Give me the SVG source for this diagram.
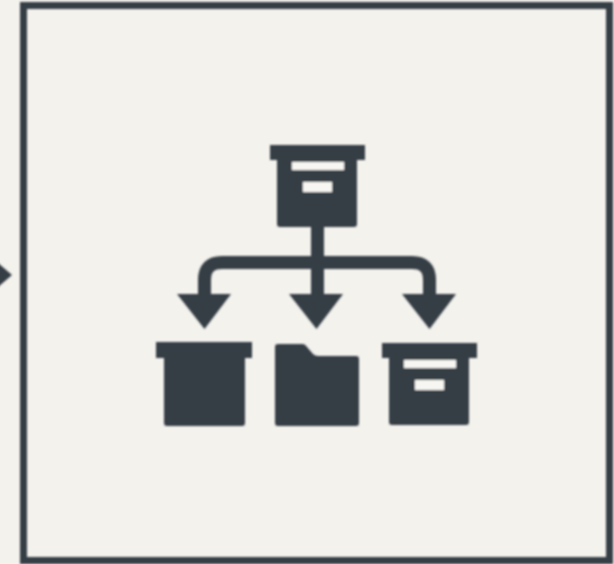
<svg xmlns="http://www.w3.org/2000/svg" width="614" height="564" viewBox="0 0 614 564">
  <defs>
    <filter id="soft" x="-5%" y="-5%" width="110%" height="110%"><feGaussianBlur stdDeviation="0.9"/></filter>
    <g id="lidbox">
      <path class="ink" d="M0 0H95V15H87V79Q87 82 84 82H10Q7 82 7 79V15H0Z"/>
    </g>
    <g id="labels">
      <rect class="paper" x="22" y="17" width="52" height="8"/>
      <rect class="paper" x="33" y="37" width="29" height="10"/>
    </g>
  </defs>
  <style>
    .ink { fill: #353c44; }
    .paper { fill: #f7f6f2; }
    .line { fill: none; stroke: #353c44; stroke-width: 13; }
    .frame { fill: none; stroke: #353c44; stroke-width: 7; }
  </style>
  <rect width="614" height="564" fill="#f3f2ed"/>
  <g filter="url(#soft)">
    <g id="connectors">
      <path class="line" d="M317.500 227V296"/>
      <path class="line" d="M204.500 296V280Q204.500 262.500 222 262.500H412Q429.500 262.500 429.500 280V296"/>
      <path class="ink" d="M177 294H231L204.500 329Z"/>
      <path class="ink" d="M289 294H343L316.500 329Z"/>
      <path class="ink" d="M402 294H456L429.500 329Z"/>
      <path class="ink" d="M-2 263L12 275L-2 287Z"/>
    </g>
    <g id="frame"><rect class="frame" x="23.500" y="5.500" width="586" height="555"/></g>
    <g id="source-box" transform="translate(270 145)"><use href="#lidbox"/><use href="#labels"/></g>
    <g id="plain-box"><path class="ink" d="M156 342H252V358H245V423Q245 426 242 426H167Q164 426 164 423V358H156Z"/></g>
    <g id="folder"><path class="ink" d="M275 347Q275 344 278 344H303Q305 344 307 347L313 354Q315 356 318 356H356Q359 356 359 359V423Q359 426 356 426H278Q275 426 275 423Z"/></g>
    <g id="labelled-box" transform="translate(382 343)"><use href="#lidbox"/><use href="#labels"/></g>
  </g>
</svg>
